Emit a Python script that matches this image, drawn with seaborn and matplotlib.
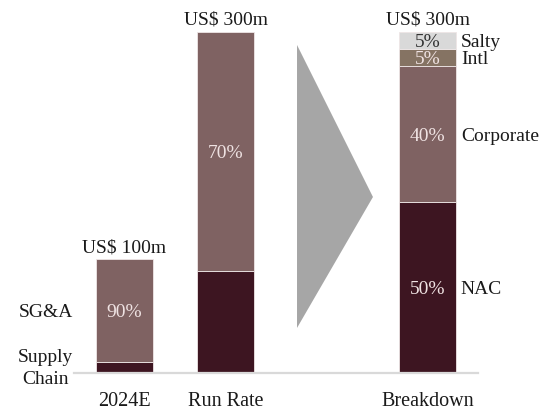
import matplotlib
matplotlib.use("Agg")
import matplotlib.pyplot as plt
from matplotlib.patches import Polygon
import seaborn as sns
import pandas as pd

# Cost-base bars (US$ m) and their composition
periods = ["2024E", "Run Rate", "Breakdown"]
axis_order = ["2024E", "Run Rate", " ", "Breakdown"]
totals = [100, 300, 300]

seg_period = ["2024E", "2024E", "Run Rate", "Run Rate", "Breakdown", "Breakdown", "Breakdown", "Breakdown"]
seg_name = ["Supply Chain", "SG&A", "Supply Chain", "SG&A", "NAC", "Corporate", "Intl", "Salty"]
seg_share = [10, 90, 30, 70, 50, 40, 5, 5]
seg_label = ["", "90%", "", "70%", "50%", "40%", "5%", "5%"]
seg_side_label = ["", "", "", "", "NAC", "Corporate", "Intl", "Salty"]

colors = {
    "Supply Chain": "#3d1521",
    "SG&A": "#7f6262",
    "NAC": "#3d1521",
    "Corporate": "#7f6262",
    "Intl": "#857363",
    "Salty": "#d9d9d9",
}
text_colors = {"Salty": "#333333"}

sns.set_theme(style="white")
plt.rcParams["font.family"] = ["Liberation Serif", "DejaVu Serif"]

fig = plt.figure(figsize=(5.59, 4.13), dpi=100)
ax = fig.add_axes([0.1324, 0.0969, 0.7227, 0.8809])

df = pd.DataFrame({
    "period": seg_period,
    "segment": seg_name,
    "share": seg_share,
    "label": seg_label,
    "side": seg_side_label,
})
df["total"] = df["period"].map(dict(zip(periods, totals)))
df["value"] = df["share"] / 100 * df["total"]
df["base"] = df.groupby("period")["value"].cumsum() - df["value"]

bar_w = 0.565
for _, row in df.iterrows():
    sns.barplot(x=[row["period"]], y=[row["value"]], order=axis_order,
                bottom=row["base"], color=colors[row["segment"]], saturation=1,
                width=bar_w, edgecolor="#eee6e6", linewidth=0.6, ax=ax)
    pos = axis_order.index(row["period"])
    mid = row["base"] + row["value"] / 2
    if row["label"]:
        ax.text(pos, mid, row["label"], ha="center", va="center_baseline", fontsize=14,
                color=text_colors.get(row["segment"], "#efe2e2"))
    if row["side"]:
        ax.text(pos + 0.33, mid, row["side"], ha="left", va="center_baseline",
                fontsize=14, color="#1a1a1a")

# Totals above each bar
for p, t in zip(periods, totals):
    ax.text(axis_order.index(p), t + 12, f"US$ {t}m", ha="center", va="center_baseline",
            fontsize=14, color="#1a1a1a")

# Segment names for the first bar, on its left
ax.text(-0.78, 55, "SG&A", ha="center", va="center_baseline", fontsize=14, color="#1a1a1a")
ax.text(-0.78, 4, "Supply\nChain", ha="center", va="center", fontsize=14,
        color="#1a1a1a", linespacing=1.35)

# Grey arrow pointing from the run rate to its breakdown
ax.add_patch(Polygon([(1.708, 288.5), (1.708, 39.6), (2.46, 154.8)],
                     closed=True, facecolor="#a6a6a6", edgecolor="none"))

ax.set_xlim(-0.5, 3.5)
ax.set_ylim(0, 320)
ax.set_xlabel("")
ax.set_ylabel("")
ax.set_yticks([])
for side in ["top", "right", "left"]:
    ax.spines[side].set_visible(False)
ax.spines["bottom"].set_color("#d9d9d9")
ax.spines["bottom"].set_linewidth(1.6)
ax.tick_params(axis="x", length=0, pad=14, labelsize=14.5, labelcolor="#1a1a1a")

fig.savefig("out.png", dpi=100)
